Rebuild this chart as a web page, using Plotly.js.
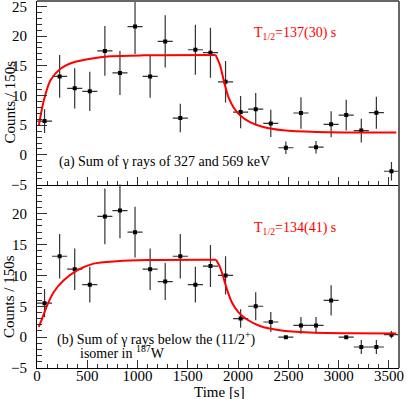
<!DOCTYPE html>
<html>
<head>
<meta charset="utf-8">
<script src="https://cdn.plot.ly/plotly-3.0.1.min.js"></script>
<style>
  body { margin: 0; background: #fff; }
  #decay { width: 407px; height: 399px; }
</style>
</head>
<body>
<div id="decay"></div>
<script>
// bin centres (150 s bins)
var binCenters = [75, 225, 375, 525, 675, 825, 975, 1125, 1275, 1425, 1575, 1725,
                  1875, 2025, 2175, 2325, 2475, 2625, 2775, 2925, 3075, 3225, 3375, 3525];

// (a) 327 + 569 keV
var countsA = [5.7, 13.2, 11.2, 10.7, 17.5, 13.8, 21.6, 13.2, 19.1, 6.2, 17.7, 17.2,
               12.3, 7.2, 7.7, 5.3, 1.2, 7.05, 1.3, 5.15, 6.7, 4.1, 7.1, -2.75];
var errA = [2.0, 3.6, 3.4, 3.3, 4.2, 3.7, 4.6, 3.6, 4.4, 2.4, 4.2, 4.2,
            3.5, 2.7, 2.7, 2.3, 1.05, 2.65, 1.05, 2.2, 2.6, 2.0, 2.7, 1.55];

// (b) below the (11/2+) isomer
var countsB = [5.5, 13.1, 11.0, 8.5, 19.55, 20.5, 17.0, 11.0, 9.0, 13.1, 8.5, 11.5,
               10.0, 3.0, 5.0, 2.45, 0, 1.9, 1.9, 5.95, 0, -1.6, -1.6, 0.4];
var errB = [2.3, 3.6, 3.35, 2.9, 4.5, 4.5, 4.1, 3.35, 3.0, 3.6, 2.9, 3.4,
            3.1, 1.5, 2.25, 1.6, 0, 1.35, 1.35, 2.45, 0, 1.15, 1.15, 0.6];

// fit curves (beam on / beam off)
var riseTimeA = [18, 68, 134, 233, 365, 531, 729, 1060, 1777];
var riseA = [4.9, 9.2, 12.55, 14.5, 15.6, 16.2, 16.6, 16.75, 16.8];
var fallTimeA = [1777, 1820, 1860, 1903, 1952, 2019, 2118, 2250, 2448, 2780, 3573];
var fallA = [16.8, 15.1, 12.3, 9.75, 8.06, 6.66, 5.5, 4.7, 4.14, 3.85, 3.75];

var riseTimeB = [18, 51, 101, 167, 266, 399, 563, 795, 1100, 1781];
var riseB = [1.65, 3.0, 5.15, 7.3, 9.2, 10.8, 11.9, 12.3, 12.5, 12.55];
var fallTimeB = [1781, 1820, 1853, 1887, 1936, 2002, 2085, 2217, 2415, 2713, 3100, 3573];
var fallB = [12.55, 11.35, 9.7, 7.85, 5.7, 4.05, 2.9, 1.8, 1.1, 0.73, 0.62, 0.58];

var halfLifeA = 'T<sub>1/2</sub>=137(30) s';
var halfLifeB = 'T<sub>1/2</sub>=134(41) s';
var labelA = '(a) Sum of γ rays of 327 and 569 keV';
var labelB1 = '(b) Sum of γ rays below the (11/2<sup>+</sup>)';
var labelB2 = 'isomer in <sup>187</sup>W';

var serif = '"Liberation Serif", "Times New Roman", Times, serif';

function points(y, err, xa, ya) {
    return {
        x: binCenters,
        y: y,
        xaxis: xa,
        yaxis: ya,
        type: 'scatter',
        mode: 'markers',
        marker: {symbol: 'square', size: 4, color: 'black'},
        error_x: {type: 'constant', value: 75, width: 0, thickness: 1.2, color: '#333'},
        error_y: {type: 'data', array: err, width: 0, thickness: 1.2, color: '#333'},
        showlegend: false,
        hoverinfo: 'x+y'
    };
}

function fit(x, y, xa, ya) {
    return {
        x: x,
        y: y,
        xaxis: xa,
        yaxis: ya,
        type: 'scatter',
        mode: 'lines',
        line: {color: '#ff0000', width: 2, shape: 'spline', smoothing: 0.8},
        showlegend: false,
        hoverinfo: 'skip'
    };
}

var data = [
    points(countsA, errA, 'x', 'y'),
    points(countsB, errB, 'x2', 'y2'),
    fit(riseTimeA, riseA, 'x', 'y'),
    fit(fallTimeA, fallA, 'x', 'y'),
    fit(riseTimeB, riseB, 'x2', 'y2'),
    fit(fallTimeB, fallB, 'x2', 'y2')
];

var split = 0.4997;

var xStyle = {
    range: [0, 3600],
    dtick: 500,
    tick0: 0,
    ticks: 'inside',
    ticklen: 8,
    tickcolor: '#333',
    minor: {ticks: 'inside', ticklen: 4, dtick: 100, tickcolor: '#333'},
    showline: true,
    linecolor: 'black',
    linewidth: 1,
    showgrid: false,
    zeroline: false,
    ticklabelstandoff: -6,
    ticklabeloverflow: 'allow',
    tickfont: {family: serif, size: 15, color: 'black'}
};

var yStyle = {
    dtick: 5,
    tick0: 0,
    ticks: 'inside',
    ticklen: 10,
    tickcolor: '#333',
    minor: {ticks: 'inside', ticklen: 5, dtick: 1, tickcolor: '#333'},
    showline: true,
    linecolor: 'black',
    linewidth: 1,
    showgrid: false,
    zeroline: false,
    ticklabelstandoff: 6,
    ticklabeloverflow: 'allow',
    tickfont: {family: serif, size: 15, color: 'black'}
};

var layout = {
    width: 407,
    height: 399,
    margin: {l: 37, r: 8, t: 1, b: 31},
    paper_bgcolor: 'white',
    plot_bgcolor: 'white',
    xaxis: Object.assign({}, xStyle, {anchor: 'y', showticklabels: false}),
    yaxis: Object.assign({}, yStyle, {anchor: 'x', domain: [split, 1], range: [-5, 25.9]}),
    xaxis2: Object.assign({}, xStyle, {anchor: 'y2'}),
    yaxis2: Object.assign({}, yStyle, {anchor: 'x2', domain: [0, split], range: [-5, 24.7]}),
    shapes: [
        {type: 'line', xref: 'paper', yref: 'paper', x0: 1, x1: 1, y0: 0, y1: 1,
         line: {color: '#666', width: 2}},
        {type: 'line', xref: 'paper', yref: 'paper', x0: 0, x1: 1, y0: 1, y1: 1,
         line: {color: '#666', width: 2}}
    ],
    annotations: [
        {text: halfLifeA, xref: 'x', yref: 'y', x: 2135, y: 20.4, xanchor: 'left', yanchor: 'middle',
         showarrow: false, font: {family: serif, size: 14, color: '#ff0000'}},
        {text: halfLifeB, xref: 'x2', yref: 'y2', x: 2135, y: 17.6, xanchor: 'left', yanchor: 'middle',
         showarrow: false, font: {family: serif, size: 14, color: '#ff0000'}},
        {text: labelA, xref: 'x', yref: 'y', x: 200, y: -1.25, xanchor: 'left', yanchor: 'middle',
         showarrow: false, font: {family: serif, size: 14, color: 'black'}},
        {text: labelB1, xref: 'x2', yref: 'y2', x: 180, y: -0.15, xanchor: 'left', yanchor: 'middle',
         showarrow: false, font: {family: serif, size: 14, color: 'black'}},
        {text: labelB2, xref: 'x2', yref: 'y2', x: 410, y: -2.35, xanchor: 'left', yanchor: 'middle',
         showarrow: false, font: {family: serif, size: 14, color: 'black'}},
        {text: 'Counts / 150s', xref: 'paper', yref: 'paper', x: -0.076, y: 0.725, textangle: -90,
         xanchor: 'center', yanchor: 'middle', showarrow: false,
         font: {family: serif, size: 15, color: 'black'}},
        {text: 'Counts / 150s', xref: 'paper', yref: 'paper', x: -0.076, y: 0.195, textangle: -90,
         xanchor: 'center', yanchor: 'middle', showarrow: false,
         font: {family: serif, size: 15, color: 'black'}},
        {text: 'Time [s]', xref: 'paper', yref: 'paper', x: 0.503, y: -0.066,
         xanchor: 'center', yanchor: 'middle', showarrow: false,
         font: {family: serif, size: 15, color: 'black'}}
    ]
};

Plotly.newPlot('decay', data, layout, {staticPlot: true});
</script>
</body>
</html>
